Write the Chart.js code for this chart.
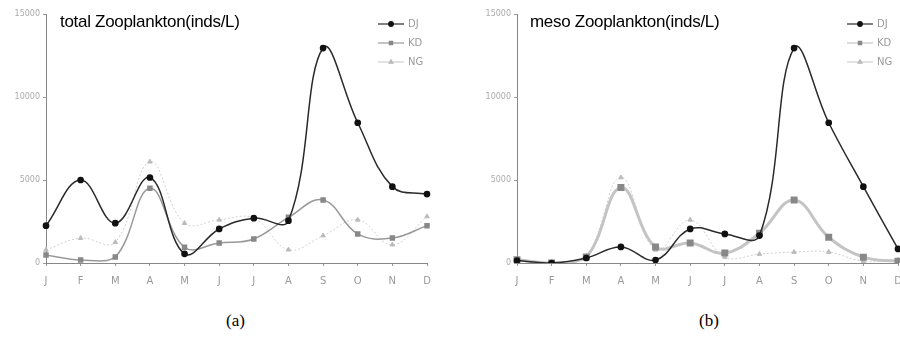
<!DOCTYPE html>
<html><head><meta charset="utf-8">
<script src="https://cdn.jsdelivr.net/npm/chart.js@4/dist/chart.umd.min.js"></script>
<style>
html,body{margin:0;padding:0;background:#fff;}
#wrap{position:relative;width:900px;height:337px;overflow:hidden;background:#fff;}
canvas{position:absolute;top:0;}
.ttl{position:absolute;font-family:"Liberation Sans",Arial,sans-serif;font-size:17px;color:#000;letter-spacing:-0.3px;white-space:nowrap;}
.cap{position:absolute;font-family:"Liberation Serif","Times New Roman",serif;font-size:17px;color:#000;}
</style></head>
<body><div id="wrap">
<canvas id="ca" width="450" height="295" style="left:0"></canvas>
<canvas id="cb" width="450" height="295" style="left:471px"></canvas>
<div class="ttl" style="left:60px;top:12px">total Zooplankton(inds/L)</div>
<div class="ttl" style="left:530px;top:12px">meso Zooplankton(inds/L)</div>
<div class="cap" style="left:226px;top:311px">(a)</div>
<div class="cap" style="left:699px;top:311px">(b)</div>
</div>
<script>
const months = ["J","F","M","A","M","J","J","A","S","O","N","D"];
const seriesNames = ["DJ","KD","NG"];
const yTicks = [0,5000,10000,15000];

// (a) total Zooplankton
const totalDJ = [2250,5000,2400,5150,550,2050,2700,2550,12950,8450,4600,4150];
const totalKD = [480,180,360,4500,950,1200,1450,2750,3800,1750,1500,2250];
const totalNG = [790,1500,1250,6100,2400,2600,2700,800,1650,2600,1100,2800];

// (b) meso Zooplankton
const mesoDJ = [150,0,300,970,180,2050,1750,1650,12950,8450,4600,850];
const mesoKD = [200,0,360,4550,970,1200,600,1800,3800,1550,350,100];
const mesoNG = [100,0,420,5150,790,2600,360,540,660,660,100,180];

const legendPlugin = {
  id:'inLegend',
  afterDraw(chart, args, opts){
    const ctx = chart.ctx;
    chart.data.datasets.forEach((ds,i)=>{
      const y = opts.y + i*19;
      ctx.save();
      ctx.strokeStyle = ds.borderColor;
      ctx.lineWidth = 1.2;
      ctx.setLineDash([]);
      ctx.beginPath(); ctx.moveTo(opts.x, y); ctx.lineTo(opts.x+26, y); ctx.stroke();
      ctx.fillStyle = ds.pointBackgroundColor;
      ctx.strokeStyle = ds.pointBorderColor;
      Chart.helpers.drawPoint(ctx, {pointStyle: ds.pointStyle, radius: 2.3, borderWidth:1}, opts.x+13, y);
      ctx.fillStyle = '#999';
      ctx.font = '10px "DejaVu Sans", sans-serif';
      ctx.textBaseline = 'middle';
      ctx.fillText(ds.label, opts.x+30, y);
      ctx.restore();
    });
  }
};

function makeChart(id, dj, kd, ng, kdWidth, kdColor, legendX){
  return new Chart(document.getElementById(id), {
    type:'line',
    data:{
      labels: months,
      datasets:[
        {label:seriesNames[0], data:dj, borderColor:'#2a2a2a', borderWidth:1.5, pointStyle:'circle', pointRadius:2.6, pointBackgroundColor:'#111', pointBorderColor:'#111', tension:0.4},
        {label:seriesNames[1], data:kd, borderColor:kdColor, borderWidth:kdWidth, pointStyle:'rect', pointRadius:2.8, pointBackgroundColor:'#888', pointBorderColor:'#888', tension:0.4},
        {label:seriesNames[2], data:ng, borderColor:'#d0d0d0', borderWidth:1, borderDash:[2,2], pointStyle:'triangle', pointRadius:2.6, pointBackgroundColor:'#bbb', pointBorderColor:'#bbb', tension:0.4}
      ]
    },
    options:{
      responsive:false, animation:false, devicePixelRatio:1,
      layout:{padding:{left:0,right:23,top:14,bottom:0}},
      plugins:{legend:{display:false}, title:{display:false}, tooltip:{enabled:false},
        inLegend:{x:legendX, y:24}},
      scales:{
        x:{type:'category', offset:false,
          border:{display:true,color:'#888',width:1},
          grid:{display:true, drawOnChartArea:false, tickLength:3, color:'#999'},
          ticks:{color:'#999', font:{family:'"DejaVu Sans", sans-serif', size:10}, padding:9, maxRotation:0, autoSkip:false},
          afterFit:(s)=>{s.height=32;}
        },
        y:{min:0,max:15000,
          afterBuildTicks:(s)=>{s.ticks = yTicks.map(v=>({value:v}));},
          border:{display:true,color:'#888',width:1},
          grid:{display:true, drawOnChartArea:false, tickLength:3, color:'#999'},
          ticks:{color:'#aaa', font:{family:'"DejaVu Sans", sans-serif', size:8}, padding:3, callback:(v)=>String(v)},
          afterFit:(s)=>{s.width=46;}
        }
      }
    },
    plugins:[legendPlugin]
  });
}
makeChart('ca', totalDJ, totalKD, totalNG, 1.5, '#999', 378);
makeChart('cb', mesoDJ, mesoKD, mesoNG, 3, '#c4c4c4', 376);
</script>
</body></html>
